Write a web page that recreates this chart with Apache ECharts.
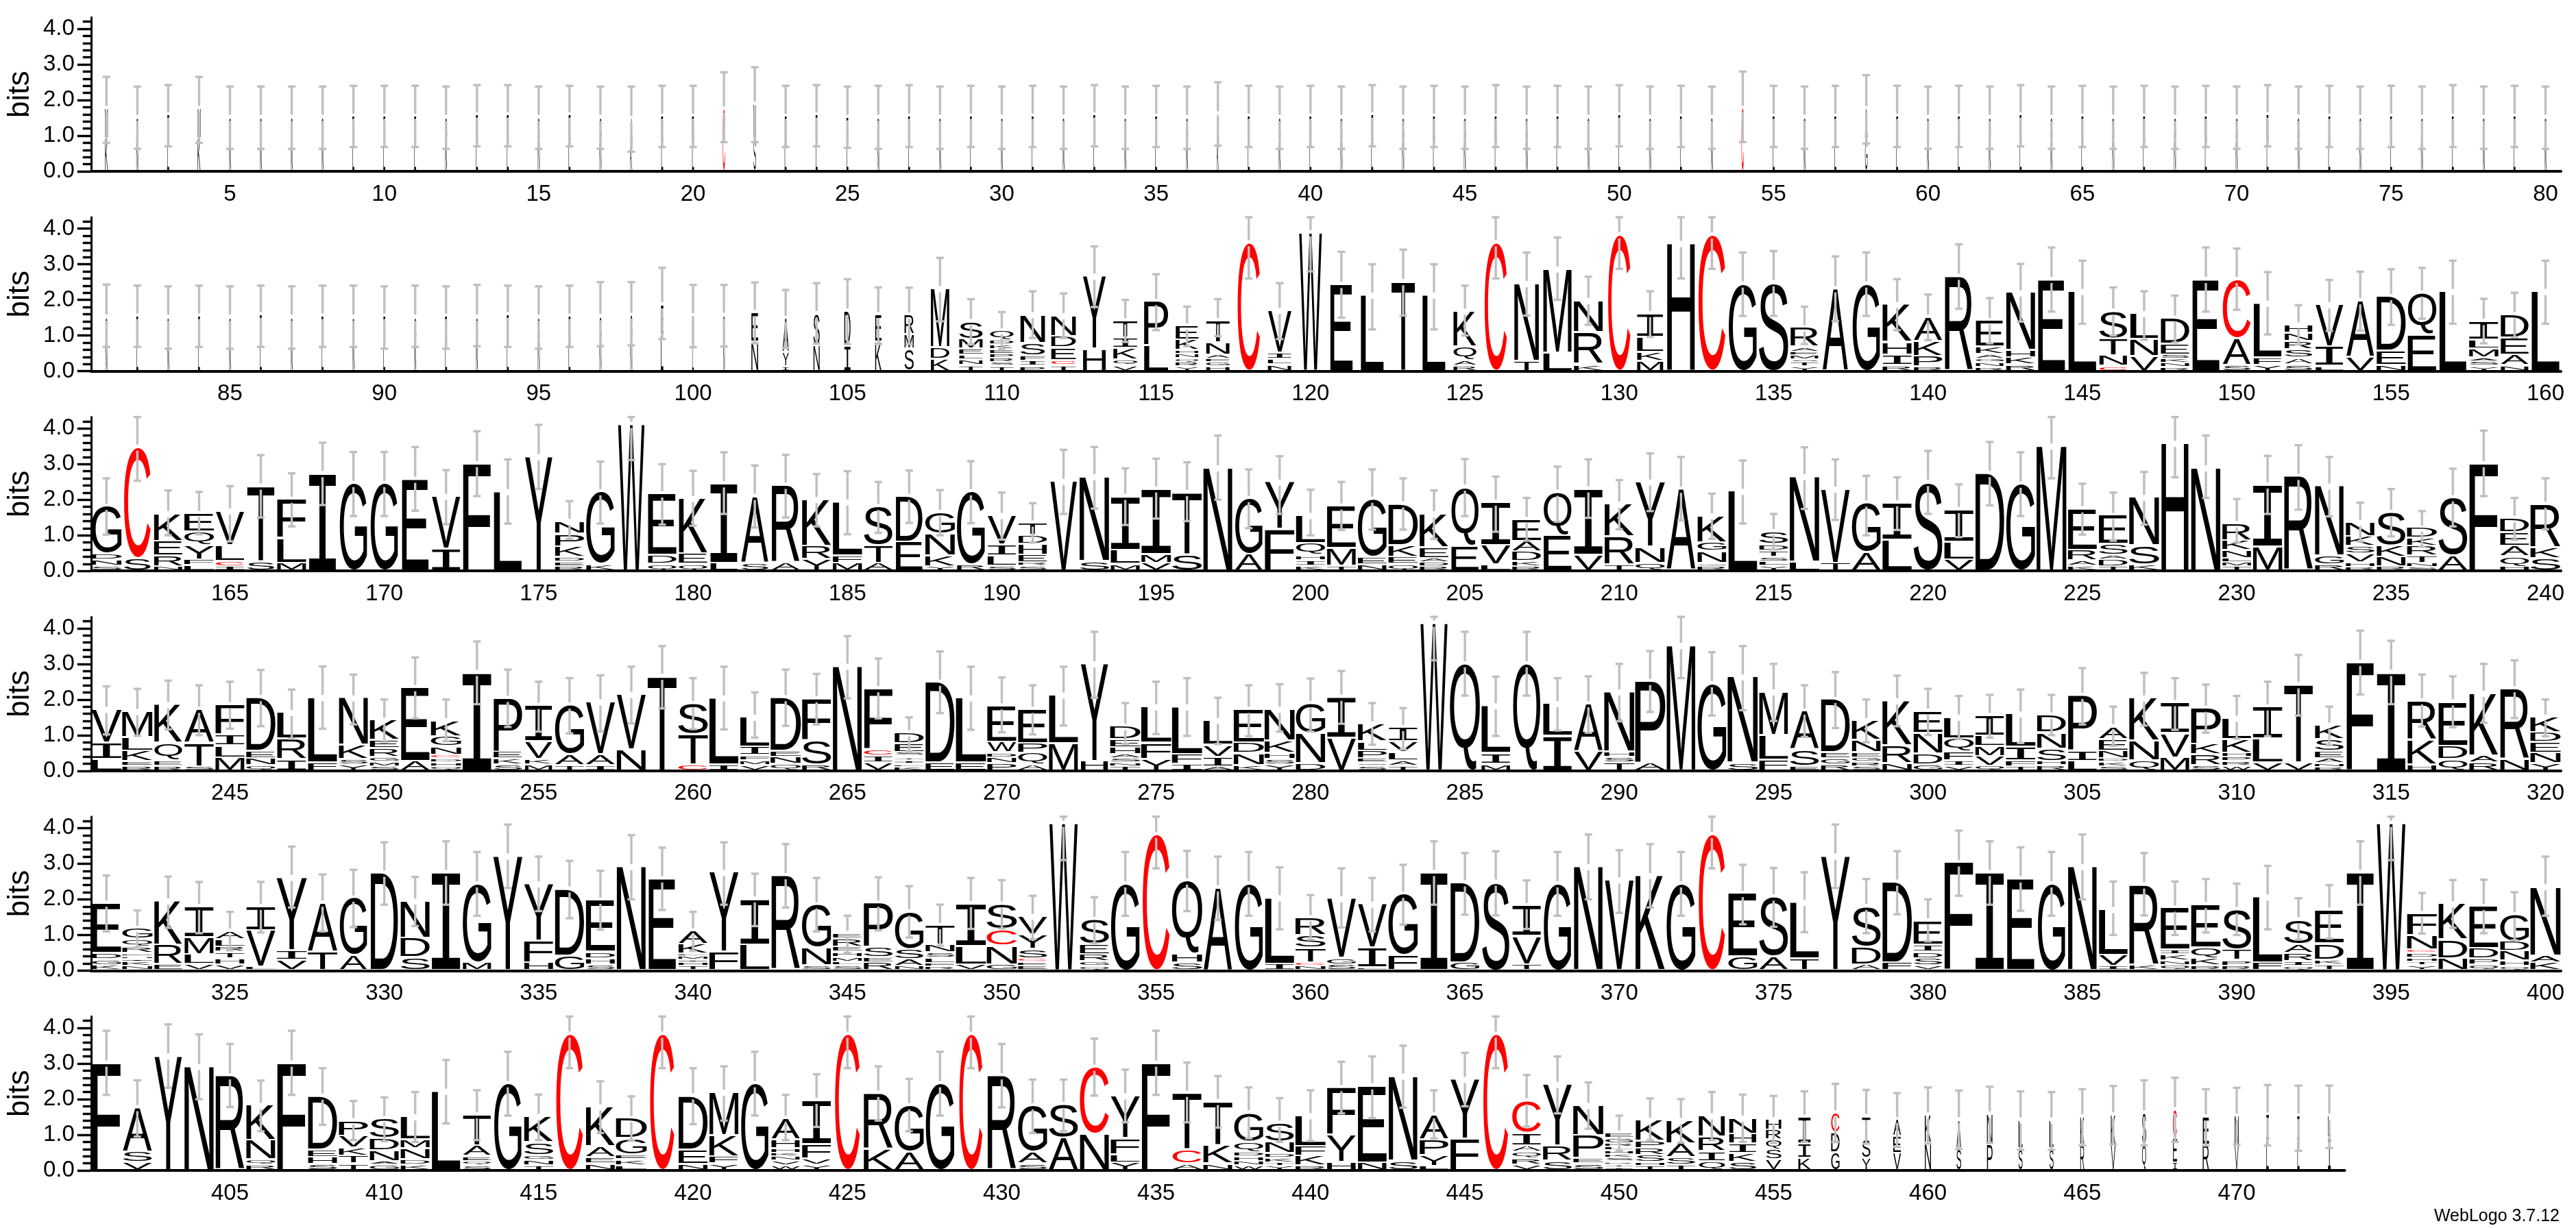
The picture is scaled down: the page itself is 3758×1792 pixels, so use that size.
<!DOCTYPE html>
<html><head><meta charset="utf-8">
<style>html,body{margin:0;padding:0;background:#fff}#c{width:3758px;height:1792px}</style>
<script src="https://cdn.jsdelivr.net/npm/echarts@6/dist/echarts.min.js"></script>
</head><body><div id="c"></div>
<script>
const row1Start=1;
const row1Stacks=["K.9M.85","N.8S.7","L.8E.77","K.9M.85","N.8S.7","N.8S.7","N.8S.7","N.8S.7","L.8E.73","L.8E.73",
"L.8E.73","N.8S.7","L.8E.77","L.8E.77","N.8S.7","L.8E.77","N.8S.7","K.7A.77","L.8E.73","L.8E.73",
"C1.73","S.9N.97","L.8E.73","L.8E.77","L.8E.7","N.8S.7","L.8E.73","N.8S.7","L.8E.73","N.8S.7",
"L.8E.73","N.8S.7","L.8E.77","N.8S.7","L.8E.73","N.8S.7","K.8A.8","L.8E.73","N.8S.7","L.8E.73",
"N.8S.7","L.8E.77","N.8S.7","L.8E.73","N.8S.7","L.8E.73","N.8S.7","L.8E.73","N.8S.7","L.8E.77",
"N.8S.7","L.8E.73","N.8S.7","C1.75","L.8E.73","N.8S.7","L.8E.73","G.9A.85","L.8E.73","N.8S.7",
"L.8E.73","N.8S.7","L.8E.77","N.8S.7","L.8E.73","N.8S.7","L.8E.73","N.8S.7","L.8E.73","N.8S.7",
"L.8E.77","N.8S.7","L.8E.73","N.8S.7","L.8E.73","N.8S.7","L.8E.73","N.8S.7","L.8E.73","N.8S.7"];
const row1Widths=[.09,.06,.06,.09,.06,.06,.06,.06,.06,.06,.06,.06,.06,.06,.06,.06,.06,.06,.06,.06,
.08,.08,.06,.06,.06,.06,.06,.06,.06,.06,.06,.06,.06,.06,.06,.06,.06,.06,.06,.06,
.06,.06,.06,.06,.06,.06,.06,.06,.06,.06,.06,.06,.06,.08,.06,.06,.06,.08,.06,.06,
.06,.06,.06,.06,.06,.06,.06,.06,.06,.06,.06,.06,.06,.06,.06,.06,.06,.06,.06,.06];
const row1Hi=[2.65,2.38,2.42,2.65,2.38,2.38,2.38,2.38,2.4,2.4,2.4,2.38,2.42,2.42,2.38,2.4,2.38,2.38,2.4,2.4,
2.78,2.92,2.4,2.42,2.38,2.4,2.42,2.38,2.4,2.38,2.4,2.38,2.42,2.38,2.4,2.38,2.5,2.4,2.38,2.4,
2.38,2.42,2.38,2.4,2.38,2.42,2.38,2.4,2.38,2.42,2.38,2.4,2.38,2.8,2.4,2.38,2.4,2.7,2.4,2.38,
2.4,2.38,2.42,2.38,2.4,2.38,2.4,2.38,2.4,2.38,2.42,2.38,2.4,2.38,2.4,2.38,2.42,2.38,2.4,2.38];
const row1Lo=[.8,.63,.7,.8,.63,.63,.63,.63,.68,.68,.68,.63,.7,.7,.63,.7,.63,.55,.68,.68,
.82,.82,.68,.7,.66,.63,.68,.63,.68,.63,.68,.63,.7,.63,.68,.63,.72,.68,.63,.68,
.63,.7,.63,.68,.63,.68,.63,.68,.63,.7,.63,.68,.63,.82,.68,.63,.68,.78,.68,.63,
.68,.63,.7,.63,.68,.63,.68,.63,.68,.63,.7,.63,.68,.63,.68,.63,.68,.63,.68,.63];

const row2Start=81;
const row2Stacks=["N.8S.7","L.8E.73","N.8S.7","L.8E.73","N.8S.7","L.8E.77","N.8S.7","L.8E.73","N.8S.7","L.8E.73",
"N.8S.7","L.8E.73","N.8S.7","L.8E.77","N.8S.7","L.8E.73","N.8S.72","N.8S.75","L1.0E.85","L.7K.84",
"N.7S.85","N.8E.83","I.1Y.4A.97","N.7S.9","I.7D.97","K.8E.77","S.6M.4R.56","K.32D.33M1.65","T.14N.16L.14E.17M.27S.5","T.12S.1R.12P.12E.12K.14D.14Q.26",
"P.12I.14F.15S.36N.8","T.14C.14E.36D.32N.58","H.6Y2.05","V.14Q.16K.32I.3T.48","L.7P1.24","Y.1R.12Q.11N.12H.11K.3E.39","H.1G.12F.1A.12N.34T.62","C3.59","N.16L.16I.18V1.19","W3.87",
"E2.42","L2.12","T2.5","L2.12","R.13A.16Q.38K1.0","C3.59","T.27N2.17","L.5M2.35","K.17R.9N.9","C3.81",
"M.27K.25L.42I.66","H3.57","C3.81","G2.43","S2.47","Y.1T.12S.08M.12E.1A.14R.54","A2.3","G2.43","R.14I.3H.36K1.06","R.1P.3K.42A.68",
"R2.65","R.08N.14G.1A.14K.2E.74","R.16K.2H.2N1.62","E2.56","L2.22","C.12N.3T.47S.78","V.4N.47L.73","R.08N.12K.12S.12E.3D.73","E2.56","S.15A.75C1.66",
"Y.15F.2L1.54","S.17A.19S.23R.23N.23H.23","L.12I.55V1.18","V.37A1.59","N.15E.4D1.53","E1.0Q1.18","L2.22","Y.12S.13A.1M.25L.25I.53","N.14A.3E.48D.65","L2.22"];
const row2Widths=[.06,.06,.06,.06,.06,.06,.06,.06,.06,.06,.06,.06,.06,.06,.06,.06,.06,.06,.08,.05,
.05,.22,.2,.2,.2,.2,.3,.6,.76,.76,.8,.8,.74,.78,.78,.74,.76,.72,.76,.74,
.72,.74,.76,.74,.74,.72,.8,.92,.94,.72,.85,.9,.87,.9,.95,.9,.82,.88,.94,.92,
.9,.9,.94,.87,.9,.9,.9,.92,.87,.9,.9,.9,.9,.9,.94,.92,.87,.95,.9,.9];
const row2Hi=[2.43,2.4,2.38,2.4,2.38,2.4,2.38,2.4,2.4,2.38,2.4,2.38,2.42,2.4,2.38,2.4,2.5,2.5,2.9,2.42,
2.42,2.49,2.28,2.47,2.58,2.35,2.34,3.18,2.02,1.66,2.24,2.18,3.5,2.0,2.72,1.81,2.02,4.32,2.47,4.32,
3.35,3.0,3.41,3.0,2.4,4.32,3.33,3.75,2.65,4.32,2.24,4.32,4.32,3.33,3.37,1.81,3.22,3.33,2.58,2.15,
3.56,2.05,3.01,3.47,3.1,2.35,2.24,2.12,3.47,3.44,2.78,1.85,2.56,2.79,2.86,2.9,3.1,2.03,2.2,3.1];
const row2Lo=[.68,.68,.63,.68,.63,.68,.63,.68,.68,.63,.68,.63,.7,.68,.63,.68,.7,.72,.9,.67,
.69,.78,.65,.77,.76,.76,.76,1.4,.75,.62,.93,.93,1.8,.82,1.15,.7,.98,2.6,.9,2.8,
1.5,1.17,1.56,1.17,1.0,2.6,1.56,2.0,1.3,2.87,.96,2.6,2.87,1.55,1.55,.76,1.4,1.55,1.15,.87,
1.75,.78,1.39,1.67,1.33,1.0,.88,.8,1.67,1.72,1.03,.75,1.13,1.14,1.3,1.47,1.33,.78,.95,1.33];

const row3Start=161;
const row3Stacks=["S.12N.17D.17G1.34","S.33C3.13","N.1R.3E.42K.78","L.13F.17Y.41Q.37E.52","I.1C.15L.45V.97","S.25T2.12","M.2L.7F1.1","I2.72","G2.44","G2.44",
"E2.56","I.6V1.48","F3.0","L2.21","Y3.19","R.1E.13D.13K.3P.36N.36","K.17G2.04","W4.1","Q.17D.25E1.73","Q.17E.3K1.55",
"L.2I2.23","S.2A1.88","A.2R2.19","Y.3R.38K1.31","M.2F.2L1.52","A.2T.5S1.1","E.8D1.28","Y.1K.3N.62G.61","R.15G2.06","S.12L.28I.32V.82",
"S.11R.1E.22H.3D.25T.35","V2.5","S.25N2.38","M.17L.4I1.51","V.2M.25I1.84","S.45T1.74","N2.88","A.45G1.57","F1.15Y1.33","K.12I.16H.14Q.33L.79",
"T.12M.5E1.19","N.16E.2G1.64","Q.17E.2K.33D1.17","R.1D.12A.12E.3K.95","E.68Q1.66","L.15V.55I1.22","R.1K.15D.27A.3E.61","E.97Q1.23","V.42I1.87","T.15R.8K.91",
"Q.2N.45Y1.83","A2.28","R.1Q.1N.33G.25K.75","L2.22","Y.11L.12S.14T.18D.18S.36","L.24N2.39","T.2V2.08","A.5G1.39","L.85I1.05","S2.47",
"V.3L.5I.91","D2.72","G2.42","M3.49","K.12A.15R.3E1.16","T.1D.2A.13S.3E.81","K.15S.55N1.35","H3.57","N2.88","T.1M.12L.12N.22K.27R.48",
"M.65I1.75","R2.64","R.15G.25N1.97","R.08H.13V.25S.22K.27N.4","R.1N.27K.32S.94","S.08N.12T.2R.28K.22D.29","A.4S1.64","F3.0","H.1Q.28A.3E.38D.4","S.33K.3R1.23"];
const row3Widths=[.98,.86,.92,.96,.92,.88,.94,.88,.88,.88,.86,.92,.9,.9,.88,.94,.92,.86,.92,.92,
.88,.88,.9,.94,.95,.92,.86,.96,.9,.92,.92,.86,.96,.94,.96,.96,.94,.88,.96,.94,
.93,.93,.95,.93,.88,.95,.93,.9,.93,.95,.95,.93,.93,.93,.93,.96,.93,.93,.95,.93,
.95,.93,.93,.97,.93,.93,.97,.88,.95,.93,.95,.93,.93,.93,.93,.97,.93,.93,.93,.97];
const row3Hi=[2.6,4.32,2.26,2.22,2.38,3.25,2.74,3.6,3.34,3.34,3.48,2.83,3.92,3.13,4.1,1.96,3.07,4.32,3.0,2.81,
3.33,2.96,3.26,2.72,2.8,2.5,2.82,2.27,3.08,2.2,1.9,3.4,3.48,2.88,3.15,3.05,3.8,2.85,3.22,2.28,
2.5,2.85,2.6,2.26,3.14,2.65,2.05,2.93,3.13,2.55,3.3,3.2,2.17,3.1,1.6,3.47,3.13,2.67,2.63,3.37,
2.43,3.62,3.33,4.32,2.45,2.2,2.78,4.32,3.8,2.02,3.23,3.53,3.2,1.92,2.3,1.68,2.87,3.94,2.05,2.6];
const row3Lo=[1.02,2.53,1.0,1.03,.83,1.5,1.25,1.85,1.54,1.54,1.69,1.31,2.1,1.33,2.3,.9,1.33,3.11,1.3,1.27,
1.6,1.22,1.5,1.25,1.03,1.07,1.35,1.0,1.34,.88,.8,1.6,1.75,1.29,1.47,1.4,2.0,1.2,1.6,1.0,
1.15,1.16,1.16,.9,1.54,1.1,.85,1.38,1.49,1.17,1.68,1.42,.9,1.33,.6,1.74,1.43,1.0,1.15,1.6,
.95,1.84,1.54,2.6,1.02,.85,1.3,2.63,2.05,.8,1.6,1.72,1.53,.83,.97,.68,1.25,2.1,.87,1.17];

const row4Start=241;
const row4Stacks=["L.3I.46V.95","R.12E.12K.3L.38M.73","R.12E.16Q.48K1.08","S.1T.66A.95","M.35L.33I.32F.84","Q.13N.2E.2D1.51","I.3R.58L.74","F.2L1.84","Y.15S.15K.4N1.33","S.1M.13G.13R.25E.23K.56",
"A.25E2.07","Q.1H.11D.11C.1N.24G.27K.46","I2.75","S.15K.17E.2P1.5","M.15K.15V.5I1.02","T.13A.3G1.4","I.13A.3V1.49","N.58V1.55","T2.64","C.15T.85S.87",
"I.15L1.88","V.14M.13F.14I.24L.84","Q.17N.2E.17D1.5","R.15S.7F1.16","N2.92","V.2I.2C.17F1.72","K.08L.08I.1T.08H.06S.1E.25D.3","E.2D2.27","E.2L1.83","P.18N.17D.14W.3E1.02",
"A.15Q.33P.27E.96","M.75L1.36","H.25Y2.74","T.1N.1S.12A.12H.2E.22D.37","Y.3F.46L1.02","I.17F.27L1.34","A.1I.27V.33L.7","K.14N.33D.3E.94","Y.15S.15H.17K.35N.89","D.18N.85G.84",
"V.9I1.15","S.1Q.1E.12P.22L.26K.5","T.12A.15L.23V.3I.4","W4.13","Q2.99","M.17I.3L1.34","Q2.99","I.95L.92","V.53A1.34","T.2S.16H.16N1.68",
"A.2P2.29","M3.5","G2.43","S.2N2.42","F.28L.7M1.22","E.1S.46A1.1","R.15G.17E.17D1.5","S.1R.12G.13E.15N.35K.54","N.18R.5K1.27","G.15D.3N.58E.63",
"V.12I.15F.25Q.37L.6","Q.12V.27M.27L.3I.58","T.1F.17I.38L.93","R.13H.12S.35N.45D.5","L.25I.3P1.55","S.1K.12D.1N.22E.32A.36","Q.27N.55K1.21","M.35V.68I.87","S.13R.3K.3P1.01","W.12R.12P.12H.12K.38L.6",
"V.2L.68I.9","V.2T2.2","R.08N.1A.15E.2S.33K.4","F3.03","I2.75","H.15K.7R1.1","Q.3D.37E1.25","R.2A.2K1.76","N.3R1.99","Y.18N.3E.3D.27K.44"];
const row4Widths=[.98,.98,.9,.95,.94,.94,.94,.94,.94,.94,.92,.98,.94,.92,.88,.94,.94,.94,.94,.96,
.94,.94,.98,.94,.94,.92,.94,.94,.98,.94,.94,.94,.88,.98,.98,.98,.94,.98,.98,.95,
.93,.93,.93,.88,.97,.93,.88,.93,.93,.98,.98,.93,.93,.98,.93,.93,.93,.93,.95,.93,
.96,.93,.96,.93,.93,.93,.96,.93,.96,.93,.96,.93,.93,.88,.93,.93,.93,.93,.93,.98];
const row4Hi=[2.37,2.3,2.53,2.4,2.5,2.83,2.28,2.93,2.7,2.0,3.18,2.0,3.63,2.84,2.5,2.6,2.68,2.92,3.5,2.6,
2.92,2.2,2.84,2.72,3.78,3.15,1.5,3.35,2.92,2.62,2.4,2.92,3.9,1.9,2.5,2.6,2.05,2.4,2.43,2.59,
2.8,1.9,1.76,4.32,3.9,2.64,3.9,2.6,2.65,3.0,3.36,4.32,3.33,3.5,3.0,2.4,2.77,2.0,2.67,2.3,
2.1,2.13,2.28,2.13,2.88,1.8,2.75,2.6,2.42,2.1,2.5,3.25,1.8,3.93,3.65,2.7,2.65,3.0,3.1,2.0];
const row4Lo=[1.02,.98,1.16,1.0,1.18,1.25,.9,1.18,1.3,.8,1.47,.83,1.87,1.23,1.1,1.05,1.1,1.33,1.75,1.17,
1.16,.93,1.26,1.3,2.03,1.47,.55,1.62,1.15,1.08,1.02,1.27,2.05,.75,1.03,.98,.75,.97,1.1,1.1,
1.32,.73,.6,3.1,2.11,.98,2.11,1.13,1.07,1.39,1.65,2.6,1.55,1.7,1.4,.95,1.2,.8,1.25,1.0,
.9,.93,.78,1.0,1.3,.7,1.27,1.15,1.07,.9,.97,1.55,.72,2.14,1.87,1.24,1.22,1.35,1.48,.97];

const row5Start=321;
const row5Stacks=["K.13G.16D.18E1.41","N.1K.12I.08H.08D.09R.17Q.22G.31","E.15R.55K1.24","V.16L.28M.48I.87","V.14H.18T.18R.15L.2A.24","L.08V1.03I.68","V.27I.27Y2.06","T.5A1.38","A.4G1.62","D2.72",
"S.35D.54N1.05","I2.74","M.2G2.22","Y3.2","H.2F.62Y1.6","G.4D1.88","S.14H.18D.18E1.46","N2.9","E2.56","T.1H.1I.07M.1L.08K.27A.38",
"F.5Y2.24","L.7I1.3","R2.65","S.12N.5G1.21","S.12L.1M.14H.14E.15R.22E.16","R.2E.16S.28P1.24","N.1A.2S.28G1.05","R.08F.1L.15S.15N.22T.55","V.15L.52I1.2","G.15N.52C.46S.72",
"E.11E.1C.1S.27Y.4V.53","W4.12","Q.11G.12R.2E.28S.71","G2.42","C3.81","S.2H.25Q2.05","A2.31","G2.42","I.17L1.86","N.1C.1T.41S.36R.5",
"S.15G.18V1.67","L.07I.55V1.23","F.4G1.73","I2.74","G.2D2.25","S2.47","T.15V.8I.86","G2.42","N2.9","V2.53",
"K2.65","G2.42","C3.81","G.37E1.78","A.37S1.68","T.32L1.58","Y3.2","A.15D.5S1.14","F.2D2.27","V.12S.2D.18I.2E.68",
"F3.01","I2.74","E2.56","G2.42","N2.9","I.1V.32L1.28","K.13R2.26","Q.12N.14K.17I.13E1.18","R.12K.2Q.3E1.22","R.11P.16T.3S1.13",
"F.2L1.85","Q.11I.13R.22A.26S.69","T.14K.14D.45E.95","I2.74","W4.12","Y.12T.1H.11D.13C.11N.4F.62","N.32D.53K1.01","Q.14P.17D.3E1.18","Q.1H.15N.27D.27G.76","K.2A.2N1.94"];
const row5Widths=[.94,.98,.9,.94,.94,.94,.98,.96,.88,.88,.94,.93,.92,.94,.94,.94,.94,.94,.88,.94,
.94,.94,.92,.94,.94,.94,.92,.94,.98,.98,.94,.92,.94,.92,.87,.98,.92,.9,.94,.98,
.93,.93,.95,.88,.93,.88,.93,.88,.93,.93,.95,.93,.85,.93,.93,.93,.93,.93,.95,.93,
.93,.93,.88,.88,.93,.93,.95,.93,.95,.93,.95,.93,.93,.88,.93,.97,.93,.93,.93,.98];
const row5Hi=[2.67,1.69,2.64,2.49,1.65,2.49,3.48,2.7,2.83,3.6,2.63,3.63,3.33,4.1,3.2,3.08,2.8,3.8,3.45,1.65,
3.6,2.72,3.55,2.6,1.54,2.62,2.37,1.85,2.6,2.54,2.1,4.32,2.06,3.33,4.32,3.36,3.2,3.33,2.9,2.12,
2.87,2.6,2.97,3.63,3.3,3.35,2.53,3.33,3.82,3.38,3.55,3.33,4.32,2.97,2.88,2.76,4.1,2.57,3.35,2.0,
3.93,3.63,3.46,3.33,3.82,2.5,3.3,2.5,2.57,2.44,2.94,2.03,2.4,3.63,4.32,2.18,2.54,2.55,2.2,3.2];
const row5Lo=[1.1,.65,1.2,1.05,.57,1.07,1.77,1.1,1.22,1.85,1.25,1.85,1.54,2.32,1.67,1.47,1.15,2.0,1.7,.55,
1.85,1.25,1.77,1.1,.5,1.13,.93,.7,1.17,1.18,.88,3.1,.77,1.54,2.87,1.67,1.42,1.54,1.16,.87,
1.21,1.1,1.29,1.85,1.57,1.55,1.17,1.54,2.0,1.62,1.77,1.54,2.87,1.3,1.23,1.08,2.32,1.05,1.58,.82,
2.1,1.85,1.68,1.54,2.0,1.0,1.55,1.0,1.07,1.0,1.16,.87,.9,1.85,3.1,1.04,1.2,1.05,.85,1.54];

const row6Start=401;
const row6Stacks=["F3.0","V.2S.3A1.25","Y3.2","N2.9","R2.64","R.14Q.14N.54K.99","F3.0","S.15H.2E.2D1.52","T.17T.22K.22V.34P.43","G.13A.1N.3D.35S.56",
"K.14D.15N.3M.25L.65","L2.21","S.12Q.12E.14A.3T.87","G2.42","T.12N.15G.13S.37K.73","C3.81","N.17E.18A.3K1.12","L.12K.16E.13G.47D.56","C3.81","N.16E.4D1.52",
"Y.17F.2K.59M1.22","G2.42","W.12V.13N.12K.1H.13H.25A.59","Y.13V.18F.4I1.24","C3.81","K.58R1.57","A.5G1.3","G2.42","C3.81","R2.64",
"S.17A.33G1.3","A.9S.94","N1.0C1.88","Y.2L.22F.46Y1.2","F3.0","A.17C.38T1.6","N.17K.52T1.23","W.12N.12H.13D.13Q.28G.82","Y.1T.1K.13D.13N.32S.53","R.11K.27F.28L.86",
"H.22Y.76F1.33","N.2E2.16","S.25N2.38","L.1Y.3P.45A.7","F.87Y1.67","C3.81","V.14R.19Q.17A.17I.35C.92","S.25R.42Y1.73","S.17E.15P.65N.84","I.06T.08R.09S.1K.1H.1L.1R.1G.15E.15",
"T.1H.1S.2R.2P.2K.59","T.14S.2A.4K.65","Q.24I.28R.4N.6","S.22K.25I.26H.27N.45","V.28S.28Q.28R.28H.29","K.33I.4I.75","G.48D.55C.57","Y.32S.55T.63","V.47E.47A.47","N.75K.79",
"S.6A.81","P.7N.87","S.6L.8","S.6L.8","R.7K.79","V.7K.85","Q.7S.9","I.2E.7C.79","R.7E.79","V.7N.81",
"L.8I.74","L.8I.71","I.9L.61"];
const row6Widths=[.93,.94,.88,.95,.93,.94,.93,.94,.94,.94,.94,.92,.9,.88,.94,.86,.94,1.0,.78,.94,
.94,.88,.92,.94,.8,.94,.94,.92,.75,.92,.94,.94,.94,.94,.93,.94,.94,.94,.93,.98,
.93,.93,.93,.93,.93,.8,.93,.93,.98,.9,.93,.93,.85,.88,.5,.4,.27,.27,.25,.2,
.15,.18,.13,.13,.13,.15,.13,.13,.2,.13,.08,.07,.09];
const row6Hi=[3.92,2.53,4.1,3.82,3.55,2.52,3.92,2.87,1.95,2.05,2.2,3.1,2.25,3.33,2.13,4.32,2.5,2.08,4.32,2.87,
2.92,3.33,2.12,2.7,4.32,2.92,2.57,3.33,4.32,3.55,2.55,2.55,3.7,2.83,3.92,3.03,2.65,2.33,2.03,2.25,
3.05,3.2,3.5,2.25,3.3,4.32,2.68,3.2,2.47,1.54,2.02,2.0,2.2,2.13,2.09,2.22,2.43,2.26,2.17,2.33,
2.24,2.35,2.22,2.2,2.28,2.37,2.53,2.6,2.28,2.32,2.4,2.38,2.38];
const row6Lo=[2.12,.95,2.32,2.0,1.78,1.1,2.12,1.28,.85,.82,.8,1.32,.85,1.54,.85,2.87,1.05,.85,2.87,1.3,
1.4,1.54,.85,1.22,2.87,1.4,1.1,1.54,2.87,1.77,1.05,1.1,2.1,1.35,2.12,1.35,1.2,.9,.8,.83,
1.6,1.47,1.76,.9,1.8,2.87,1.23,1.6,1.17,.55,.85,.78,.85,.8,.77,.8,.8,.75,.66,.75,
.6,.77,.58,.58,.7,.73,.7,.8,.7,.73,.7,.55,.63];

const tickEvery=5, yTickValues=[0,1,2,3,4], yMax=4.32;
const rows=[
 [row1Start,row1Stacks,row1Widths,row1Hi,row1Lo],
 [row2Start,row2Stacks,row2Widths,row2Hi,row2Lo],
 [row3Start,row3Stacks,row3Widths,row3Hi,row3Lo],
 [row4Start,row4Stacks,row4Widths,row4Hi,row4Lo],
 [row5Start,row5Stacks,row5Widths,row5Hi,row5Lo],
 [row6Start,row6Stacks,row6Widths,row6Hi,row6Lo]];

const LEFT=132, STEP=45.05, PXBIT=52, BASE0=250, ROWGAP=291.6;
const SANS='"Liberation Sans"', MONO='"Liberation Mono"', FS=200;
const ctx=document.createElement('canvas').getContext('2d');
const inkCache={};
function fontFor(ch){return (ch==='I'?FS+'px '+MONO:FS+'px '+SANS);}
function ink(ch){
  if(inkCache[ch])return inkCache[ch];
  ctx.font=fontFor(ch);ctx.textBaseline='middle';ctx.textAlign='left';
  const m=ctx.measureText(ch);
  return inkCache[ch]={l:-m.actualBoundingBoxLeft,r:m.actualBoundingBoxRight,t:-m.actualBoundingBoxAscent,b:m.actualBoundingBoxDescent};
}
function parse(s){const o=[];s.replace(/([A-Z])([\d.]+)/g,(a,c,h)=>{o.push([c,+h]);return a;});return o;}

const grids=[],xAxes=[],yAxes=[],series=[];
rows.forEach((row,k)=>{
  const [start,stacks,widths,hi,lo]=row;
  const cats=stacks.map((_,i)=>String(start+i));
  const parsed=stacks.map(parse);
  const totals=parsed.map(p=>p.reduce((a,e)=>a+e[1],0));
  const base=BASE0+ROWGAP*k;
  const h=yMax*PXBIT;
  grids.push({left:LEFT,top:base-h,width:STEP*cats.length,height:h});
  const isMajor=(i,v)=>(+v)%tickEvery===0;
  xAxes.push({type:'category',gridIndex:k,data:cats,position:'bottom',
    axisLine:{onZero:false,lineStyle:{color:'#000',width:4}},
    axisTick:{alignWithLabel:true,interval:isMajor,length:10,lineStyle:{color:'#000',width:3}},
    axisLabel:{interval:isMajor,margin:17,color:'#000',fontSize:33,fontFamily:SANS},
    splitLine:{show:false}});
  xAxes.push({type:'category',gridIndex:k,data:cats,position:'bottom',
    axisLine:{show:false,onZero:false},
    axisTick:{alignWithLabel:true,interval:0,length:6,lineStyle:{color:'#000',width:3}},
    axisLabel:{show:false},splitLine:{show:false}});
  yAxes.push({type:'value',gridIndex:k,min:0,max:yMax,interval:1,
    name:'bits',nameLocation:'middle',nameGap:65,nameRotate:90,
    nameTextStyle:{color:'#000',fontSize:44,fontFamily:SANS},
    axisLine:{show:true,lineStyle:{color:'#000',width:3}},
    axisTick:{show:true,length:20,customValues:yTickValues,lineStyle:{color:'#000',width:3.4}},
    minorTick:{show:true,splitNumber:5,length:12,lineStyle:{color:'#000',width:3.4}},
    axisLabel:{color:'#000',fontSize:33,fontFamily:SANS,margin:24,customValues:yTickValues,formatter:v=>v.toFixed(1)},
    splitLine:{show:false},minorSplitLine:{show:false}});
  const xi=k*2;
  series.push({type:'custom',xAxisIndex:xi,yAxisIndex:k,animation:false,silent:true,clip:false,z:2,
    encode:{x:0,y:1},
    data:cats.map((c,i)=>[c,totals[i]]),
    renderItem(params,api){
      const i=params.dataIndex,cx=api.coord([i,0])[0],bw=api.size([1,0])[0]*widths[i];
      const children=[];let cum=0;
      parsed[i].forEach((e,n)=>{
        const [ch,v]=e;
        const top=api.coord([i,cum+v])[1];
        let bot=api.coord([i,cum])[1]-(n===0?2:3);
        cum+=v;
        const H=bot-top;if(H<=0.5)return;
        const m=ink(ch),sx=bw/(m.r-m.l),sy=H/(m.b-m.t);
        children.push({type:'text',x:cx-bw/2-m.l*sx,y:top-m.t*sy,scaleX:sx,scaleY:sy,silent:true,
          style:{text:ch,x:0,y:0,font:fontFor(ch),fill:ch==='C'?'#ff0000':'#000',textAlign:'left',textVerticalAlign:'middle',verticalAlign:'middle'}});
      });
      return {type:'group',children};
    }});
  series.push({type:'custom',xAxisIndex:xi,yAxisIndex:k,animation:false,silent:true,clip:false,z:3,
    encode:{x:0,y:1},
    data:cats.map((c,i)=>[c,hi[i],lo[i],totals[i]]),
    renderItem(params,api){
      const i=params.dataIndex,cx=api.coord([i,0])[0];
      const yh=api.coord([i,hi[i]])[1],yl=api.coord([i,lo[i]])[1],yt=api.coord([i,totals[i]])[1];
      const st={stroke:'#bfbfbf',lineWidth:3.4,fill:null};
      const seg=(x1,y1,x2,y2)=>({type:'line',silent:true,shape:{x1,y1,x2,y2},style:st});
      const ch=[seg(cx-5.5,yh,cx+5.5,yh),seg(cx-5.5,yl,cx+5.5,yl)];
      if(yt-4.5>yh)ch.push(seg(cx,yh,cx,yt-4.5));
      if(yt+4.5<yl)ch.push(seg(cx,yt+4.5,cx,yl));
      return {type:'group',children:ch};
    }});
});

const chart=echarts.init(document.getElementById('c'),null,{renderer:'canvas'});
chart.setOption({animation:false,backgroundColor:'#fff',grid:grids,xAxis:xAxes,yAxis:yAxes,series,
  graphic:[{type:'text',right:24,top:1763,silent:true,style:{text:'WebLogo 3.7.12',font:'25px '+SANS,fill:'#000'}}]});
</script></body></html>
